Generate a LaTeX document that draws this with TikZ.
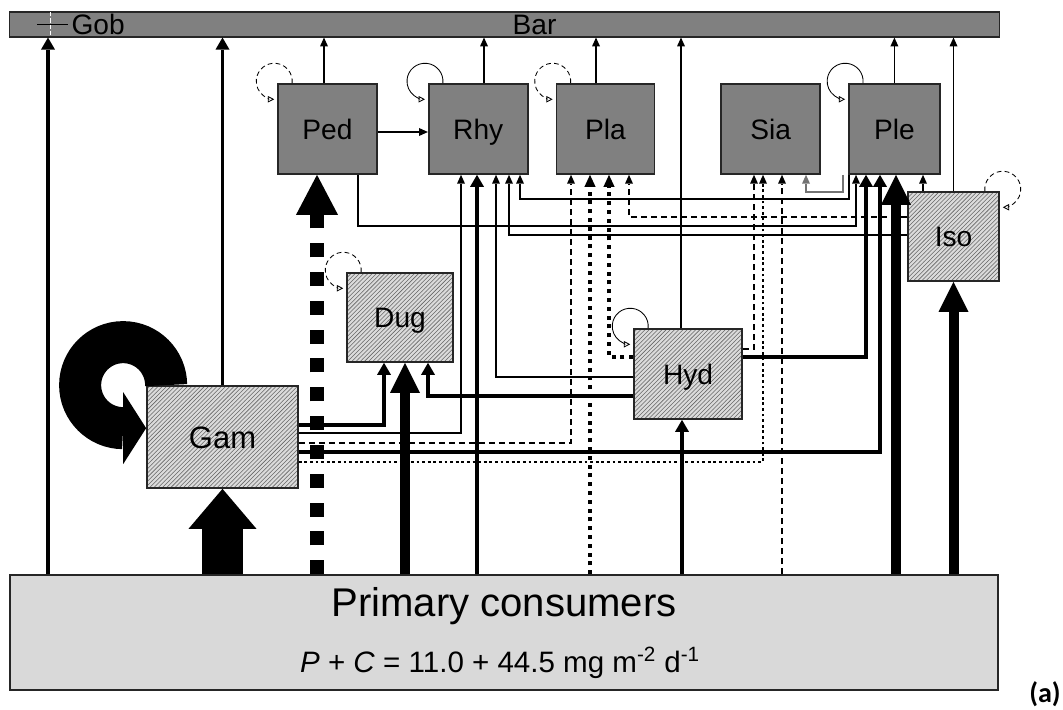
\documentclass[tikz,border=0pt]{standalone}
\usepackage{fontspec}
\setmainfont{Liberation Sans}
\newfontfamily\panelfont{Carlito}
\usepackage{tikz}
\usetikzlibrary{arrows.meta,positioning,calc,patterns}

\begin{document}
\begin{tikzpicture}[
    x=0.025cm, y=0.025cm,
    box/.style={draw=black!85, line width=1.2pt, inner sep=0pt, font=\fontsize{20}{24}\selectfont, text height=14.3pt, text depth=0pt},
    darkbox/.style={box, fill=black!50, minimum width=2.475cm, minimum height=2.25cm},
    hatchbox/.style={box, preaction={fill=black!14}, pattern=north east lines, pattern color=black!60},
    lbl/.style={inner sep=0pt, font=\fontsize{20}{24}\selectfont, text height=14.3pt, text depth=0pt},
    thinarr/.style={-{Triangle[length=0.22cm, width=0.2cm, line width=0pt]}, line width=0.8pt},
    dasharr/.style={thinarr, dash pattern=on 0.15cm off 0.1cm},
    finearr/.style={thinarr, dash pattern=on 0.07cm off 0.07cm},
    greyarr/.style={thinarr, black!55},
    midarr/.style={-{Triangle[length=0.3cm, width=0.35cm, line width=0pt]}, line width=0.09cm},
    dotarr/.style={-{Triangle[length=0.3cm, width=0.28cm, line width=0pt]}, line width=0.1cm, dash pattern=on 0.1cm off 0.12cm},
    heavyarr/.style={-{Triangle[length=0.75cm, width=0.75cm, line width=0pt]}, line width=0.25cm},
    bigdot/.style={-{Triangle[length=1.0cm, width=1.05cm, line width=0pt]}, line width=0.35cm, dash pattern=on 0.35cm off 0.37cm},
    hugearr/.style={-{Triangle[length=1.0cm, width=1.7cm, line width=0pt]}, line width=1.0cm},
    selfloop/.style={-{Triangle[open, length=0.16cm, width=0.16cm]}, line width=0.6pt},
    dashloop/.style={selfloop, dash pattern=on 0.12cm off 0.08cm}
  ]
    \useasboundingbox (0,0) rectangle (1063,-709);

    \node[box, line width=0.8pt, fill=black!50, minimum width=24.725cm, minimum height=0.625cm] (bar) at (504.5,-24.5) {};
    \node[lbl] (bartxt) at ($(bar.center)+(30,0)$) {Bar};
    \node[lbl, anchor=west] (gob) at ($(bar.west)+(62,0)$) {Gob};
    \draw[line width=0.7pt] ($(bar.west)+(28,0)$) -- ++(31,0);
    \draw[white, line width=0.7pt, dash pattern=on 0.1cm off 0.05cm] ($(bar.west)+(41,12)$) -- ++(0,-24);

    \node[darkbox] (ped) at (327.5,-129) {Ped};
    \node[darkbox, right=1.25cm of ped] (rhy) {Rhy};
    \node[darkbox, right=0.675cm of rhy, minimum width=2.45cm] (pla) {Pla};
    \node[darkbox, right=1.625cm of pla] (sia) {Sia};
    \node[darkbox, right=0.675cm of sia, minimum width=2.275cm] (ple) {Ple};
    \node[hatchbox, minimum width=2.275cm, minimum height=2.225cm] (iso) at (953.5,-236.5) {Iso};
    \node[hatchbox, minimum width=2.65cm, minimum height=2.225cm] (dug) at (400,-317.5) {Dug};
    \node[hatchbox, minimum width=2.7cm, minimum height=2.25cm] (hyd) at (688,-374) {Hyd};
    \node[hatchbox, minimum width=3.775cm, minimum height=2.55cm, font=\fontsize{22}{26}\selectfont, text height=15.8pt] (gam) at (222.5,-437) {Gam};
    \node[box, fill=black!15, minimum width=24.7cm, minimum height=2.875cm] (prim) at (504,-632.5) {};
    \node[inner sep=0pt, font=\fontsize{28.5}{34}\selectfont, text height=20.4pt, text depth=0pt] (primname) at ($(prim.north)+(0,-28)$) {Primary consumers};
    \node[inner sep=0pt, font=\fontsize{21}{25}\selectfont, text height=15pt, text depth=0pt] (primrate) at ($(prim.north)+(-4,-87.5)$) {\textit{P} + \textit{C} = 11.0 + 44.5 mg m\textsuperscript{-2} d\textsuperscript{-1}};
    \node[inner sep=0pt, font=\panelfont\bfseries\fontsize{20}{24}\selectfont] (panel) at (1045,-694) {(a)};

    \draw[thinarr] (ped.north -| 324,0) -- (bar.south -| 324,0);
    \draw[thinarr] (rhy.north -| 484,0) -- (bar.south -| 484,0);
    \draw[thinarr] (pla.north -| 596,0) -- (bar.south -| 596,0);
    \draw[thinarr] (hyd.north -| 681,0) -- (bar.south -| 681,0);
    \draw[thinarr] (ple.north) -- (ple.north |- bar.south);
    \draw[thinarr] (iso.north) -- (iso.north |- bar.south);
    \draw[thinarr] (ped.east |- 0,-132) -- (rhy.west |- 0,-132);

    \draw[thinarr] (gam.east |- 0,-433) -| (rhy.south -| 461,0);
    \draw[thinarr] (hyd.west |- 0,-377) -| (rhy.south -| 496,0);
    \draw[thinarr] (iso.west |- 0,-235) -| (rhy.south -| 509,0);
    \draw[thinarr] (ple.south -| 849,0) -- (849,-199) -| (rhy.south -| 520,0);
    \draw[dasharr] (gam.east |- 0,-443) -| (pla.south -| 571,0);
    \draw[dasharr] (iso.west |- 0,-217) -| (pla.south -| 629,0);
    \draw[dasharr] (hyd.east |- 0,-349) -| (sia.south -| 754,0);
    \draw[finearr] (gam.east |- 0,-462) -| (sia.south -| 763,0);
    \draw[dasharr] (prim.north -| 782,0) -- (sia.south -| 782,0);
    \draw[greyarr] (ple.south -| 843,0) -- (843,-192) -| (sia.south -| 806,0);
    \draw[thinarr] (ped.south -| 358,0) |- (856,-226) -- (ple.south -| 856,0);
    \draw[thinarr] (iso.north -| 923,0) -- (ple.south -| 923,0);

    \draw[dashloop] ($(ped.north west)+(15,0)$) arc[start angle=-6, end angle=270, radius=18];
    \draw[selfloop] ($(rhy.north west)+(15,0)$) arc[start angle=-6, end angle=270, radius=18];
    \draw[dashloop] ($(pla.north west)+(15,0)$) arc[start angle=-6, end angle=270, radius=18];
    \draw[selfloop] ($(ple.north west)+(15,0)$) arc[start angle=-6, end angle=270, radius=18];
    \draw[dashloop] ($(dug.north west)+(15,0)$) arc[start angle=-6, end angle=270, radius=18];
    \draw[selfloop] ($(hyd.north west)+(15,0)$) arc[start angle=-6, end angle=270, radius=18];
    \draw[dashloop] ($(iso.north east)+(-15,0)$) arc[start angle=186, end angle=-90, radius=18];

    \draw[midarr] (prim.north -| 48,0) -- (bar.south -| 48,0);
    \draw[midarr] (gam.north) -- (gam.north |- bar.south);
    \draw[midarr] (prim.north -| 477,0) -- (rhy.south -| 477,0);
    \draw[midarr] (gam.east |- 0,-425) -| (dug.south -| 384,0);
    \draw[midarr] (hyd.west |- 0,-396) -| (dug.south -| 428,0);
    \draw[midarr] (hyd.east |- 0,-357) -| (ple.south -| 866,0);
    \draw[midarr] (gam.east |- 0,-452) -| (ple.south -| 880,0);
    \draw[midarr] (prim.north -| 682,0) -- (hyd.south -| 682,0);
    \draw[dotarr] (prim.north -| 590,0) -- (pla.south -| 590,0);
    \draw[dotarr] (hyd.west |- 0,-357) -| (pla.south -| 609,0);

    \draw[heavyarr] (prim.north -| 405,0) -- (dug.south -| 405,0);
    \draw[heavyarr] (prim.north -| 896,0) -- (ple.south -| 896,0);
    \draw[heavyarr] (prim.north -| iso.south) -- (iso.south);
    \draw[bigdot] (prim.north -| 317,0) -- (ped.south -| 317,0);
    \draw[hugearr] (prim.north -| gam.south) -- (gam.south);
    \draw[line width=1.05cm, -{Triangle[length=0.575cm, width=1.8cm, line width=0pt]}]
      ($(gam.north west)+(20,0)$) arc[start angle=0, end angle=270, radius=43] -- ++(23,0);
\end{tikzpicture}
\end{document}
